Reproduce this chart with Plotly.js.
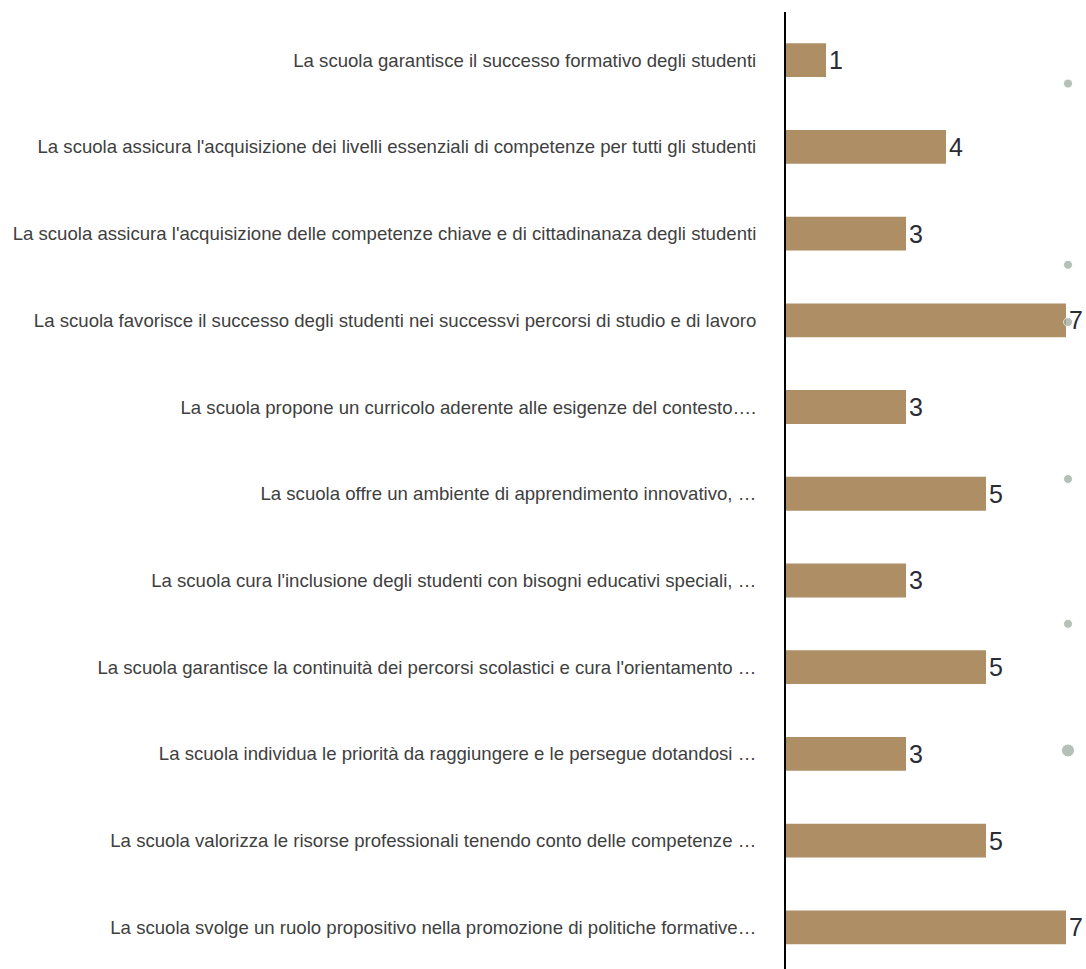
<!DOCTYPE html>
<html>
<head>
<meta charset="utf-8">
<script src="https://cdn.plot.ly/plotly-3.0.1.min.js"></script>
<style>html,body{margin:0;padding:0;background:#fff;}#chart{width:1086px;height:969px;}</style>
</head>
<body>
<div id="chart"></div>
<script>
var categories = [
  "La scuola garantisce il successo formativo degli studenti",
  "La scuola assicura l'acquisizione dei livelli essenziali di competenze per tutti gli studenti",
  "La scuola assicura l'acquisizione delle competenze chiave e di cittadinanaza degli studenti",
  "La scuola favorisce il successo degli studenti nei successvi percorsi di studio e di lavoro",
  "La scuola propone un curricolo aderente alle esigenze del contesto….",
  "La scuola offre un ambiente di apprendimento innovativo, …",
  "La scuola cura l'inclusione degli studenti con bisogni educativi speciali, …",
  "La scuola garantisce la continuità dei percorsi scolastici e cura l'orientamento …",
  "La scuola individua le priorità da raggiungere e le persegue dotandosi …",
  "La scuola valorizza le risorse professionali tenendo conto delle competenze …",
  "La scuola svolge un ruolo propositivo nella promozione di politiche formative…"
];
var values = [1, 4, 3, 7, 3, 5, 3, 5, 3, 5, 7];

// decorative grey dots at the right edge
var dotX = [7.05, 7.05, 7.05, 7.05, 7.05, 7.05];
var dotY = [0.27, 2.36, 3.02, 4.83, 6.5, 7.96];
var dotSize = [9, 9, 9, 9, 9, 13];

var idx = categories.map(function(_, i){ return i; });

var bars = {
  type: 'bar',
  orientation: 'h',
  x: values,
  y: idx,
  marker: {color: '#ad8e65'},
  text: values.map(String),
  textposition: 'outside',
  constraintext: 'none',
  cliponaxis: false,
  textfont: {family: 'Liberation Sans', size: 25, color: '#2b2b36'},
  hoverinfo: 'x+y'
};

var dots = {
  type: 'scatter',
  mode: 'markers',
  x: dotX,
  y: dotY,
  marker: {color: '#97a69b', size: dotSize},
  cliponaxis: false,
  hoverinfo: 'skip'
};

var layout = {
  width: 1086,
  height: 969,
  margin: {l: 786, r: 14, t: 12, b: 0},
  paper_bgcolor: '#fff',
  plot_bgcolor: '#fff',
  showlegend: false,
  bargap: 0.61,
  xaxis: {range: [0, 7.15], visible: false, fixedrange: true},
  yaxis: {
    range: [10.48, -0.555],
    tickmode: 'array',
    tickvals: idx,
    ticktext: categories,
    showgrid: false,
    zeroline: false,
    showline: true,
    linecolor: '#000',
    linewidth: 2,
    ticks: 'outside',
    ticklen: 24,
    tickcolor: 'rgba(0,0,0,0)',
    tickfont: {family: 'Liberation Sans', size: 18.6, color: '#404040'}
  }
};

Plotly.newPlot('chart', [bars, dots], layout, {displayModeBar: false, staticPlot: true});
</script>
</body>
</html>
